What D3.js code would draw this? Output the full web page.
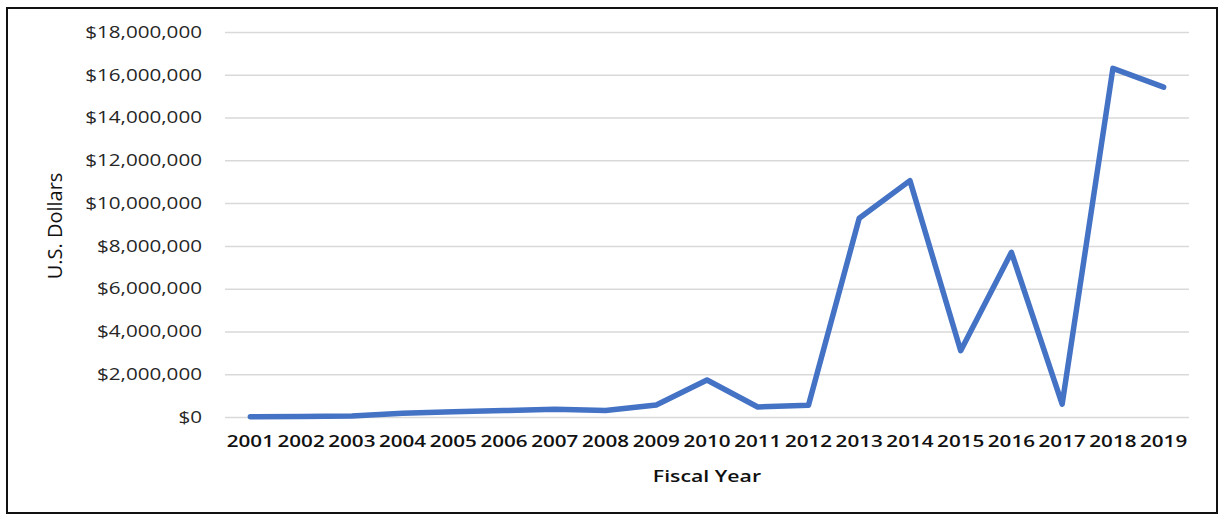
<!DOCTYPE html>
<html>
<head>
<meta charset="utf-8">
<script src="https://cdn.jsdelivr.net/npm/d3@7"></script>
<style>
  body { margin: 0; background: #fff; }
  text { font-family: "Open Sans", sans-serif; }
</style>
</head>
<body>
<div id="chart"></div>
<script>
// data
var years = ["2001", "2002", "2003", "2004", "2005", "2006", "2007", "2008", "2009", "2010",
             "2011", "2012", "2013", "2014", "2015", "2016", "2017", "2018", "2019"];
var dollars = [10000, 20000, 50000, 170000, 250000, 300000, 360000, 300000, 560000, 1730000,
               470000, 550000, 9290000, 11050000, 3100000, 7700000, 600000, 16300000, 15420000];
var yTicks = [0, 2000000, 4000000, 6000000, 8000000, 10000000, 12000000, 14000000, 16000000, 18000000];

// set the dimensions and margins of the graph
var W = 1220, H = 515;
var margin = { top: 32, right: 31, bottom: 98, left: 225 },
	width = W - margin.left - margin.right,
	height = H - margin.top - margin.bottom;

var root = d3.select("#chart")
	.append("svg")
	.attr("width", W)
	.attr("height", H);

// outer frame
root.append("rect")
	.attr("x", 7).attr("y", 8)
	.attr("width", 1210).attr("height", 505)
	.attr("fill", "none")
	.attr("stroke", "#111")
	.attr("stroke-width", 2);

var svg = root.append("g")
	.attr("transform", "translate(" + margin.left + "," + margin.top + ")");

// X axis
var x = d3.scaleBand()
	.domain(years)
	.range([0, width]);

// Y axis
var y = d3.scaleLinear()
	.domain([0, 18000000])
	.range([height, 0]);

var fmt = v => "$" + d3.format(",")(v);

// gridlines
svg.append("g")
	.call(d3.axisLeft(y).tickValues(yTicks).tickSize(-width).tickFormat(""))
	.call(g => g.select(".domain").remove())
	.call(g => g.selectAll("line").attr("stroke", "#d9d9d9").attr("stroke-width", 1.5));

// y labels
svg.append("g")
	.call(d3.axisLeft(y).tickValues(yTicks).tickSize(0).tickPadding(23).tickFormat(fmt))
	.call(g => g.select(".domain").remove())
	.call(g => g.selectAll("text")
		.attr("class", "stretch")
		.attr("fill", "#262626")
		.style("font-size", "16.5px"));

// x labels
svg.append("g")
	.attr("transform", "translate(0," + height + ")")
	.call(d3.axisBottom(x).tickSize(0).tickPadding(18))
	.call(g => g.select(".domain").remove())
	.call(g => g.selectAll("text")
		.attr("class", "stretch")
		.attr("fill", "#111")
		.style("font-size", "16.5px")
		.style("font-weight", 600));

// line
var line = d3.line()
	.x((d, i) => x(years[i]) + x.bandwidth() / 2)
	.y(d => y(d));

svg.append("path")
	.datum(dollars)
	.attr("d", line)
	.attr("fill", "none")
	.attr("stroke", "#4472c4")
	.attr("stroke-width", 5.5)
	.attr("stroke-linejoin", "round")
	.attr("stroke-linecap", "round");

// axis titles
root.append("text")
	.attr("class", "stretch")
	.attr("x", 707).attr("y", 482)
	.attr("text-anchor", "middle")
	.attr("fill", "#111")
	.style("font-size", "17px")
	.style("font-weight", 600)
	.text("Fiscal Year");

root.append("text")
	.attr("transform", "translate(62,226) rotate(-90)")
	.attr("text-anchor", "middle")
	.attr("fill", "#111")
	.style("font-size", "20px")
	.style("font-weight", 500)
	.text("U.S. Dollars");

// horizontal stretch like the original picture
root.selectAll("text.stretch").each(function () {
	var len = this.getComputedTextLength();
	d3.select(this)
		.attr("textLength", len * 1.25)
		.attr("lengthAdjust", "spacingAndGlyphs");
});
</script>
</body>
</html>
